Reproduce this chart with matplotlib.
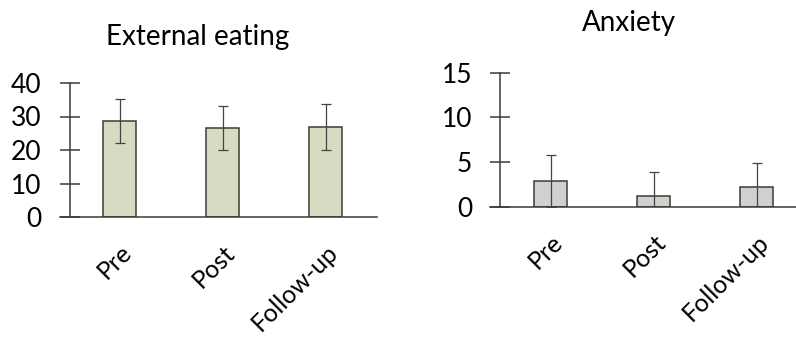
import matplotlib
matplotlib.use('Agg')
import matplotlib.pyplot as plt
from matplotlib.transforms import ScaledTranslation

categories = ['Pre', 'Post', 'Follow-up']
ext_means = [28.6, 26.5, 26.9]
ext_sd = [6.6, 6.5, 6.8]
anx_means = [2.9, 1.2, 2.2]
anx_sd = [2.9, 2.7, 2.7]
ext_yticks = [0, 10, 20, 30, 40]
anx_yticks = [0, 5, 10, 15]

plt.rcParams['font.family'] = ['Lato', 'DejaVu Sans']

W, H = 796, 342
fig = plt.figure(figsize=(W / 100, H / 100), dpi=100)

edge = '#3a3d33'
x = list(range(len(categories)))


def make(ax, means, sd, yticks, fill, title, tx, ty, yaxis_x, xlim):
    ax.bar(x, means, width=0.32, color=fill, edgecolor=edge, linewidth=1.1, zorder=2)
    ax.errorbar(x, means, yerr=sd, fmt='none', ecolor='#444444', elinewidth=0.9,
                capsize=3.5, capthick=0.9, zorder=3)
    ax.set_xlim(*xlim)
    ax.set_ylim(yticks[0], yticks[-1])
    ax.set_yticks(yticks)
    ax.set_xticks(x)
    ax.set_xticklabels(categories, rotation=45, ha='right', rotation_mode='anchor', fontsize=18)
    offset = ScaledTranslation(-0.05, 0, fig.dpi_scale_trans)
    for lab in ax.get_xticklabels():
        lab.set_transform(lab.get_transform() + offset)
    for s in ['top', 'right']:
        ax.spines[s].set_visible(False)
    ax.spines['left'].set_position(('data', yaxis_x))
    for s in ['left', 'bottom']:
        ax.spines[s].set_color(edge)
        ax.spines[s].set_linewidth(1.1)
    ax.tick_params(axis='y', direction='inout', length=14.4, width=1.1, color=edge,
                   labelsize=19, pad=13)
    ax.tick_params(axis='x', length=0, pad=17)
    ax.text(tx, ty, title, transform=ax.transAxes, ha='center', va='baseline', fontsize=20)


ax1 = fig.add_axes([60 / W, 1 - 217 / H, 317 / W, 134 / H])
make(ax1, ext_means, ext_sd, ext_yticks, '#d6dcc1', 'External eating', 0.435, 1.284,
     -0.485, (-0.58, 2.50))

ax2 = fig.add_axes([490 / W, 1 - 206.7 / H, 306 / W, 134 / H])
make(ax2, anx_means, anx_sd, anx_yticks, '#d0d0d0', 'Anxiety', 0.454, 1.311,
     -0.49, (-0.59, 2.38))

fig.savefig('out.png', dpi=100)
